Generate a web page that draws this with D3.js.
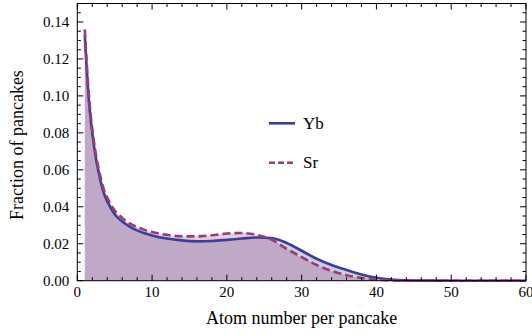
<!DOCTYPE html>
<html>
<head>
<meta charset="utf-8">
<script src="https://cdn.jsdelivr.net/npm/d3@7"></script>
<style>
  body { margin: 0; background: #fff; }
</style>
</head>
<body>
<div id="chart"></div>
<script>
// atom number per pancake (sample points)
const atomNumber = [1, 1.5, 2, 2.5, 3, 3.5, 4, 5, 6, 7, 8, 9, 10, 12, 14, 16, 18, 20, 22, 24, 26, 28, 30, 32, 34, 36, 38, 40, 42, 44, 46, 50, 55, 60];
// fraction of pancakes, Yb
const ybValues = [0.133, 0.100, 0.080, 0.066, 0.056, 0.048, 0.043, 0.036, 0.032, 0.0293, 0.0272, 0.0257, 0.0245, 0.0228, 0.0218, 0.0213, 0.0215, 0.0221, 0.0228, 0.0234, 0.0231, 0.0204, 0.0162, 0.0119, 0.0085, 0.0058, 0.0034, 0.0016, 0.0006, 0.0002, 0.0001, 0, 0, 0];
// fraction of pancakes, Sr
const srValues = [0.136, 0.103, 0.082, 0.068, 0.058, 0.050, 0.045, 0.038, 0.034, 0.031, 0.029, 0.0275, 0.0263, 0.0248, 0.0240, 0.0240, 0.0246, 0.0255, 0.0258, 0.0248, 0.0222, 0.0172, 0.0128, 0.0085, 0.0053, 0.0030, 0.0015, 0.0005, 0.0002, 0.0001, 0, 0, 0, 0];

const seriesNames = ["Yb", "Sr"];
const xTicks = [0, 10, 20, 30, 40, 50, 60];
const yTicks = [0, 0.02, 0.04, 0.06, 0.08, 0.10, 0.12, 0.14];

const W = 532, H = 335;
const margin = {top: 3.5, right: 6, bottom: 54.3, left: 77.3};
const width = W - margin.left - margin.right;
const height = H - margin.top - margin.bottom;

const colors = {Yb: "#3d3d99", Sr: "#993d71"};

const svg = d3.select("#chart").append("svg")
    .attr("width", W)
    .attr("height", H)
    .style("font-family", '"Liberation Serif"');

const g = svg.append("g")
    .attr("transform", `translate(${margin.left},${margin.top})`);

const x = d3.scaleLinear().domain([0, 60]).range([0, width]);
const y = d3.scaleLinear().domain([0, 0.15]).range([height, 0]);

const series = [
    {name: "Yb", values: ybValues},
    {name: "Sr", values: srValues}
];

const area = d3.area()
    .x(d => x(d[0]))
    .y0(y(0))
    .y1(d => y(d[1]))
    .curve(d3.curveMonotoneX);

const line = d3.line()
    .x(d => x(d[0]))
    .y(d => y(d[1]))
    .curve(d3.curveMonotoneX);

// filled areas
series.forEach(s => {
    g.append("path")
        .datum(atomNumber.map((a, i) => [a, s.values[i]]))
        .attr("d", area)
        .attr("fill", colors[s.name])
        .attr("fill-opacity", 0.25);
});

// lines
series.forEach(s => {
    g.append("path")
        .datum(atomNumber.map((a, i) => [a, s.values[i]]))
        .attr("d", line)
        .attr("fill", "none")
        .attr("stroke", colors[s.name])
        .attr("stroke-width", 2.6)
        .attr("stroke-dasharray", s.name === "Sr" ? "8,4" : null);
});

// frame with inward ticks
g.append("rect")
    .attr("width", width)
    .attr("height", height)
    .attr("fill", "none")
    .attr("stroke", "#000")
    .attr("stroke-width", 1);

const xMinor = d3.range(0, 61, 2);
const yMinor = d3.range(0, 0.1501, 0.005);

function xTickLen(v) { return v % 10 === 0 ? 6 : 3.5; }
function yTickLen(v) { return Math.abs(Math.round(v / 0.02) * 0.02 - v) < 1e-6 ? 6 : 3.5; }

const tickG = g.append("g").attr("stroke", "#000").attr("stroke-width", 1);
xMinor.forEach(v => {
    tickG.append("line").attr("x1", x(v)).attr("x2", x(v))
        .attr("y1", height).attr("y2", height - xTickLen(v));
    tickG.append("line").attr("x1", x(v)).attr("x2", x(v))
        .attr("y1", 0).attr("y2", xTickLen(v));
});
yMinor.forEach(v => {
    tickG.append("line").attr("x1", 0).attr("x2", yTickLen(v))
        .attr("y1", y(v)).attr("y2", y(v));
    tickG.append("line").attr("x1", width).attr("x2", width - yTickLen(v))
        .attr("y1", y(v)).attr("y2", y(v));
});

// tick labels
g.selectAll("text.xl").data(xTicks).enter().append("text")
    .attr("class", "xl")
    .attr("x", d => x(d))
    .attr("y", height + 16.5)
    .attr("text-anchor", "middle")
    .style("font-size", "15px")
    .text(d => d);

g.selectAll("text.yl").data(yTicks).enter().append("text")
    .attr("class", "yl")
    .attr("x", -8)
    .attr("y", d => y(d) + 5)
    .attr("text-anchor", "end")
    .style("font-size", "15px")
    .text(d => d3.format(".2f")(d));

// axis titles
svg.append("text")
    .attr("x", margin.left + width / 2)
    .attr("y", 324)
    .attr("text-anchor", "middle")
    .style("font-size", "18px")
    .text("Atom number per pancake");

svg.append("text")
    .attr("transform", `translate(23,${margin.top + height / 2 + 3}) rotate(-90)`)
    .attr("text-anchor", "middle")
    .style("font-size", "18px")
    .text("Fraction of pancakes");

// legend
const legend = svg.append("g");
seriesNames.forEach((name, i) => {
    const ly = 123.3 + i * 39.5;
    legend.append("line")
        .attr("x1", 269).attr("x2", 295)
        .attr("y1", ly).attr("y2", ly)
        .attr("stroke", colors[name])
        .attr("stroke-width", 2.6)
        .attr("stroke-dasharray", name === "Sr" ? "6,3" : null);
    legend.append("text")
        .attr("x", 303)
        .attr("y", ly + 5.5)
        .style("font-size", "17px")
        .text(name);
});
</script>
</body>
</html>
